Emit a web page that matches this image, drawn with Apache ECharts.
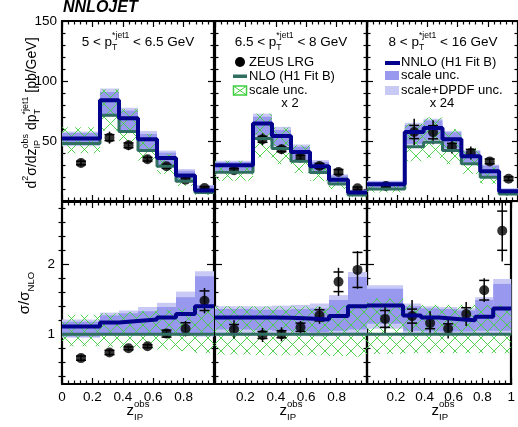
<!DOCTYPE html>
<html>
<head>
<meta charset="utf-8">
<script src="https://cdn.jsdelivr.net/npm/echarts@6/dist/echarts.min.js"></script>
<style>
  html, body { margin: 0; padding: 0; background: #fff; }
  #chart { width: 518px; height: 427px; }
</style>
</head>
<body>
<div id="chart"></div>
<script>
// ---------------- data ----------------
const binEdges   = [0, 0.25, 0.375, 0.5, 0.625, 0.75, 0.875, 1.0];
const binCentres = [0.125, 0.3125, 0.4375, 0.5625, 0.6875, 0.8125, 0.9375];
const ptLow  = ['5', '6.5', '8'];
const ptHigh = ['6.5', '8', '16'];
const scaleTags = ['', 'x 2', 'x 24'];

const xLabels1 = [0, 0.2, 0.4, 0.6, 0.8];
const xLabels2 = [0.2, 0.4, 0.6, 0.8];
const xLabels3 = [0.2, 0.4, 0.6, 0.8, 1];
const xsecLabels = [50, 100, 150];
const ratioLabels = [1, 2];
const ratioMinorTicks = [0.4, 0.6, 0.8, 1.2, 1.4, 1.6, 1.8, 2.2, 2.4, 2.6, 2.8];

// 5 < pT < 6.5 GeV : cross sections [pb/GeV]
const zeus1        = [31.7, 52.8, 46.4, 34.8, 28.9, 17.8, 10.8];
const zeusTot1     = [3, 5, 4, 3, 2.5, 2, 1.5];
const zeusStat1    = [1.5, 2.5, 2, 1.5, 1.5, 1.5, 1];
const nlo1         = [48, 71.5, 58, 42, 29, 16.5, 7];
const nloLo1       = [39.8, 58.6, 47, 33.6, 22.6, 12.5, 5.1];
const nloHi1       = [61.4, 93, 76.6, 55.9, 39.2, 22.6, 9.8];
const nnlo1        = [52, 84, 69, 51.5, 35.8, 21.3, 8.8];
const nnloScLo1    = [46.6, 71.5, 58, 42, 29, 16.5, 7];
const nnloScHi1    = [56.6, 90.8, 75.4, 55.9, 40.3, 25.2, 12.8];
const nnloTotLo1   = [45.6, 70, 56.8, 41.2, 28.4, 16.2, 6.9];
const nnloTotHi1   = [58, 93.7, 77.7, 58.4, 42, 26.6, 13.3];
// ratios to NLO
const zeusR1       = [0.66, 0.74, 0.80, 0.83, 1.01, 1.08, 1.48];
const zeusRTot1    = [0.05, 0.05, 0.04, 0.04, 0.06, 0.11, 0.18];
const zeusRStat1   = [0.03, 0.03, 0.02, 0.02, 0.05, 0.085, 0.14];
const nloRLo1      = [0.83, 0.82, 0.81, 0.80, 0.78, 0.76, 0.73];
const nloRHi1      = [1.28, 1.30, 1.32, 1.33, 1.35, 1.37, 1.40];
const nnloR1       = [1.11, 1.17, 1.19, 1.21, 1.24, 1.29, 1.40];
const nnloRScLo1   = [0.97, 1.0, 1.0, 1.0, 1.0, 1.0, 1.0];
const nnloRScHi1   = [1.18, 1.27, 1.30, 1.33, 1.39, 1.53, 1.83];
const nnloRTotLo1  = [0.95, 0.98, 0.98, 0.98, 0.98, 0.98, 0.97];
const nnloRTotHi1  = [1.21, 1.31, 1.34, 1.39, 1.45, 1.61, 1.90];

// 6.5 < pT < 8 GeV (x 2)
const zeus2        = [25.6, 51.4, 43.1, 36.1, 29.2, 24.2, 10.6];
const zeusTot2     = [3, 5, 4, 3, 3, 3, 1.5];
const zeusStat2    = [1.5, 2.5, 2, 2, 2, 2, 1];
const nlo2         = [24, 52, 43.8, 33.2, 23.7, 14.2, 5.0];
const nloLo2       = [16.8, 36.4, 30.7, 23.2, 16.6, 9.9, 3.4];
const nloHi2       = [33.6, 72.8, 61.3, 46.5, 33.2, 19.9, 7.1];
const nnlo2        = [29.75, 64.5, 54.2, 40.8, 28.9, 17.8, 7.0];
const nnloScLo2    = [25.7, 55.1, 46, 34.5, 24.4, 14.9, 5.35];
const nnloScHi2    = [32.6, 70.2, 59.1, 45.2, 32.5, 21.2, 9.1];
const nnloTotLo2   = [23.5, 51, 42.9, 32.5, 23, 13.9, 4.9];
const nnloTotHi2   = [33.6, 72.8, 61.8, 47.1, 34.1, 22.2, 9.45];
const zeusR2       = [1.07, 0.99, 1.0, 1.10, 1.27, 1.75, 1.92];
const zeusRTot2    = [0.13, 0.10, 0.10, 0.09, 0.12, 0.20, 0.27];
const zeusRStat2   = [0.07, 0.05, 0.05, 0.06, 0.08, 0.14, 0.25];
const nloRLo2      = [0.71, 0.70, 0.70, 0.70, 0.70, 0.69, 0.68];
const nloRHi2      = [1.40, 1.40, 1.40, 1.40, 1.40, 1.41, 1.42];
const nnloR2       = [1.24, 1.24, 1.235, 1.225, 1.21, 1.26, 1.40];
const nnloRScLo2   = [1.07, 1.06, 1.05, 1.04, 1.03, 1.05, 1.07];
const nnloRScHi2   = [1.36, 1.35, 1.35, 1.36, 1.37, 1.49, 1.82];
const nnloRTotLo2  = [0.98, 0.98, 0.98, 0.98, 0.97, 0.98, 0.98];
const nnloRTotHi2  = [1.40, 1.40, 1.41, 1.42, 1.44, 1.56, 1.89];

// 8 < pT < 16 GeV (x 24)
const zeus3        = [12.5, 57.5, 57.3, 45, 40, 33, 18.6];
const zeusTot3     = [1.5, 11, 10, 5.5, 5.5, 3, 2];
const zeusStat3    = [1, 5.5, 5.5, 3, 3, 2, 1.5];
const nlo3         = [9.9, 45.3, 49, 42.1, 31, 19.8, 5.9];
const nloLo3       = [7.1, 33.1, 35.8, 30.7, 22.6, 14.5, 4.3];
const nloHi3       = [14.9, 64.3, 69.6, 59.8, 44, 28.1, 8.4];
const nnlo3        = [13.9, 57.5, 60.8, 51.4, 37.2, 24.75, 8.1];
const nnloScLo3    = [11.4, 47.6, 51, 43.8, 32.2, 20.8, 6.2];
const nnloScHi3    = [16.3, 63.4, 67.1, 57.3, 41.5, 29.5, 10.1];
const nnloTotLo3   = [10.7, 46.2, 49, 42.1, 31, 19.8, 5.9];
const nnloTotHi3   = [16.8, 65.2, 68.6, 58.5, 42.5, 30.3, 10.6];
const zeusR3       = [1.22, 1.26, 1.16, 1.08, 1.29, 1.63, 2.48];
const zeusRTot3    = [0.21, 0.23, 0.17, 0.14, 0.17, 0.17, 0.44];
const zeusRStat3   = [0.12, 0.10, 0.08, 0.07, 0.09, 0.14, 0.28];
const nloRLo3      = [0.72, 0.73, 0.73, 0.73, 0.73, 0.73, 0.73];
const nloRHi3      = [1.51, 1.42, 1.42, 1.42, 1.42, 1.42, 1.42];
const nnloR3       = [1.41, 1.27, 1.24, 1.22, 1.20, 1.25, 1.37];
const nnloRScLo3   = [1.15, 1.05, 1.04, 1.04, 1.04, 1.05, 1.05];
const nnloRScHi3   = [1.65, 1.40, 1.37, 1.36, 1.34, 1.49, 1.72];
const nnloRTotLo3  = [1.08, 1.02, 1.0, 1.0, 1.0, 1.0, 1.0];
const nnloRTotHi3  = [1.70, 1.44, 1.40, 1.39, 1.37, 1.53, 1.79];

const nloSelf = [1, 1, 1, 1, 1, 1, 1];

// ---------------- style ----------------
const FONT = '"Liberation Sans", Arial, Helvetica, sans-serif';
const C_NNLO = '#02028c';
const C_NLO = '#2f6e60';
const C_SCALE = '#9898ee';
const C_TOTAL = '#c9c9f6';
const C_HATCH = '#3fcf3f';

// per-panel tables assembled from the arrays above
const xsecRows = [
  { data: zeus1, tot: zeusTot1, stat: zeusStat1, nlo: nlo1, nloLo: nloLo1, nloHi: nloHi1, nnlo: nnlo1, scLo: nnloScLo1, scHi: nnloScHi1, totLo: nnloTotLo1, totHi: nnloTotHi1 },
  { data: zeus2, tot: zeusTot2, stat: zeusStat2, nlo: nlo2, nloLo: nloLo2, nloHi: nloHi2, nnlo: nnlo2, scLo: nnloScLo2, scHi: nnloScHi2, totLo: nnloTotLo2, totHi: nnloTotHi2 },
  { data: zeus3, tot: zeusTot3, stat: zeusStat3, nlo: nlo3, nloLo: nloLo3, nloHi: nloHi3, nnlo: nnlo3, scLo: nnloScLo3, scHi: nnloScHi3, totLo: nnloTotLo3, totHi: nnloTotHi3 }
];
const ratioRows = [
  { data: zeusR1, tot: zeusRTot1, stat: zeusRStat1, nlo: nloSelf, nloLo: nloRLo1, nloHi: nloRHi1, nnlo: nnloR1, scLo: nnloRScLo1, scHi: nnloRScHi1, totLo: nnloRTotLo1, totHi: nnloRTotHi1 },
  { data: zeusR2, tot: zeusRTot2, stat: zeusRStat2, nlo: nloSelf, nloLo: nloRLo2, nloHi: nloRHi2, nnlo: nnloR2, scLo: nnloRScLo2, scHi: nnloRScHi2, totLo: nnloRTotLo2, totHi: nnloRTotHi2 },
  { data: zeusR3, tot: zeusRTot3, stat: zeusRStat3, nlo: nloSelf, nloLo: nloRLo3, nloHi: nloRHi3, nnlo: nnloR3, scLo: nnloRScLo3, scHi: nnloRScHi3, totLo: nnloRTotLo3, totHi: nnloRTotHi3 }
];
const xLabelSets = [xLabels1, xLabels2, xLabels3];

// cross-hatch fill for the NLO scale band
const hatchCanvas = document.createElement('canvas');
hatchCanvas.width = 13; hatchCanvas.height = 13;
(function () {
  const g = hatchCanvas.getContext('2d');
  g.strokeStyle = C_HATCH; g.lineWidth = 0.9;
  g.beginPath();
  g.moveTo(0, 0); g.lineTo(13, 13);
  g.moveTo(13, 0); g.lineTo(0, 13);
  g.stroke();
})();
const hatchFill = { image: hatchCanvas, repeat: 'repeat' };

// ---------------- layout ----------------
const colLeft = [62, 215, 367];
const colWidth = 152;
const rowBox = [{ top: 21, height: 180 }, { top: 202, height: 182 }];

const grids = [], xAxes = [], yAxes = [], series = [];

const tickLine = { color: '#000', width: 1.2 };
const frameLine = { show: true, onZero: false, lineStyle: { color: '#000', width: 2.2 } };
const labelFont = { color: '#000', fontFamily: FONT, fontSize: 13.5 };

function stepData(values) {
  const pts = values.map((v, i) => [binEdges[i], v]);
  pts.push([binEdges[binEdges.length - 1], values[values.length - 1]]);
  return pts;
}
function bandData(lo, hi) {
  return lo.map((l, i) => [binEdges[i], binEdges[i + 1], l, hi[i]]);
}
function renderBand(fill) {
  return function (params, api) {
    const a = api.coord([api.value(0), api.value(3)]);
    const b = api.coord([api.value(1), api.value(2)]);
    return { type: 'rect', shape: { x: a[0], y: a[1], width: b[0] - a[0], height: b[1] - a[1] }, style: { fill: fill } };
  };
}
function renderErrorBar(params, api) {
  const x = api.value(0), y = api.value(1), tot = api.value(2), stat = api.value(3);
  const lo = api.coord([x, y - tot]), hi = api.coord([x, y + tot]);
  const sLo = api.coord([x, y - stat]), sHi = api.coord([x, y + stat]);
  const hw = 5, st = { stroke: '#000', lineWidth: 1.5 };
  return { type: 'group', children: [
    { type: 'line', shape: { x1: lo[0], y1: lo[1], x2: hi[0], y2: hi[1] }, style: st },
    { type: 'line', shape: { x1: sLo[0] - hw, y1: sLo[1], x2: sLo[0] + hw, y2: sLo[1] }, style: st },
    { type: 'line', shape: { x1: sHi[0] - hw, y1: sHi[1], x2: sHi[0] + hw, y2: sHi[1] }, style: st }
  ] };
}

for (let r = 0; r < 2; r++) {
  for (let c = 0; c < 3; c++) {
    const g = grids.length;
    grids.push({ left: colLeft[c], top: rowBox[r].top, width: colWidth, height: rowBox[r].height });

    // x axes: bottom (with labels on the ratio row) and top
    const xBottom = xAxes.length;
    ['bottom', 'top'].forEach(pos => {
      const showLab = (r === 1 && pos === 'bottom');
      xAxes.push({
        type: 'value', gridIndex: g, position: pos, min: 0, max: 1, interval: 0.2,
        axisLine: frameLine,
        axisTick: { show: true, inside: true, length: 6, lineStyle: tickLine },
        minorTick: { show: true, splitNumber: 5, length: 3.5, lineStyle: tickLine },
        splitLine: { show: false }, minorSplitLine: { show: false },
        axisLabel: showLab
          ? Object.assign({ show: true, margin: 6, customValues: xLabelSets[c] }, labelFont)
          : { show: false }
      });
    });

    // y axes: left and right frame sides
    const yLeft = yAxes.length;
    ['left', 'right'].forEach(pos => {
      const showLab = (c === 0 && pos === 'left');
      if (r === 0) {
        yAxes.push({
          type: 'value', gridIndex: g, position: pos, min: 0, max: 150, interval: 50,
          axisLine: frameLine,
          axisTick: { show: true, inside: true, length: 6, lineStyle: tickLine },
          minorTick: { show: true, splitNumber: 5, length: 3.5, lineStyle: tickLine },
          splitLine: { show: false },
          axisLabel: showLab ? Object.assign({ show: true, margin: 5, customValues: xsecLabels }, labelFont) : { show: false }
        });
      } else {
        yAxes.push({
          type: 'value', gridIndex: g, position: pos, min: 0.29, max: 2.89,
          axisLine: frameLine,
          axisTick: { show: true, inside: true, length: 7, lineStyle: tickLine, customValues: ratioLabels },
          splitLine: { show: false },
          axisLabel: showLab ? Object.assign({ show: true, margin: 7, customValues: ratioLabels }, labelFont) : { show: false }
        });
        // finer ticks of the ratio scale
        yAxes.push({
          type: 'value', gridIndex: g, position: pos, min: 0.29, max: 2.89,
          axisLine: { show: false },
          axisTick: { show: true, inside: true, length: 3.5, lineStyle: tickLine, customValues: ratioMinorTicks },
          splitLine: { show: false },
          axisLabel: { show: false }
        });
      }
    });

    const row = r === 0 ? xsecRows[c] : ratioRows[c];
    const ax = { xAxisIndex: xBottom, yAxisIndex: yLeft };
    series.push(Object.assign({ type: 'custom', clip: true, renderItem: renderBand(C_TOTAL), encode: { x: [0, 1], y: [2, 3] }, data: bandData(row.totLo, row.totHi), silent: true }, ax));
    series.push(Object.assign({ type: 'custom', clip: true, renderItem: renderBand(C_SCALE), encode: { x: [0, 1], y: [2, 3] }, data: bandData(row.scLo, row.scHi), silent: true }, ax));
    series.push(Object.assign({ type: 'custom', clip: true, renderItem: renderBand(hatchFill), encode: { x: [0, 1], y: [2, 3] }, data: bandData(row.nloLo, row.nloHi), silent: true }, ax));
    series.push(Object.assign({ type: 'line', step: 'end', showSymbol: false, clip: true, lineStyle: { color: C_NLO, width: 3 }, data: stepData(row.nlo), silent: true }, ax));
    series.push(Object.assign({ type: 'line', step: 'end', showSymbol: false, clip: true, lineStyle: { color: C_NNLO, width: 4 }, data: stepData(row.nnlo), silent: true }, ax));
    series.push(Object.assign({ type: 'custom', clip: true, renderItem: renderErrorBar, encode: { x: 0, y: 1 }, data: row.data.map((v, i) => [binCentres[i], v, row.tot[i], row.stat[i]]), silent: true }, ax));
    series.push(Object.assign({ type: 'scatter', symbol: 'circle', symbolSize: 10, clip: true, itemStyle: { color: '#000' }, data: row.data.map((v, i) => [binCentres[i], v]), silent: true }, ax));
  }
}

// ---------------- text with sub/superscripts ----------------
const measure = document.createElement('canvas').getContext('2d');
function textWidth(str, size, weight) {
  measure.font = (weight || 'normal') + ' ' + size + 'px ' + FONT;
  return measure.measureText(str).width;
}
function textEl(str, x, y, size, extra) {
  return Object.assign({
    type: 'text', x: x, y: y,
    style: { text: str, font: size + 'px ' + FONT, fill: '#000', align: 'left', verticalAlign: 'middle', textAlign: 'left', textVerticalAlign: 'middle' }
  }, extra || {});
}
// parts: plain strings, or {sup, sub} stacked scripts
function formula(parts, size) {
  const small = size * 0.64;
  let x = 0;
  const children = [];
  parts.forEach(p => {
    if (typeof p === 'string') {
      children.push(textEl(p, x, 0, size));
      x += textWidth(p, size);
    } else {
      let w = 0;
      if (p.sup) { children.push(textEl(p.sup, x, -size * 0.45, small)); w = Math.max(w, textWidth(p.sup, small)); }
      if (p.sub) { children.push(textEl(p.sub, x, size * 0.40, small)); w = Math.max(w, textWidth(p.sub, small)); }
      x += w;
    }
  });
  return { width: x, children: children };
}
function centred(parts, size, cx, cy) {
  const f = formula(parts, size);
  return { type: 'group', x: cx - f.width / 2, y: cy, children: f.children };
}
function vertical(parts, size, cx, cy) {
  const f = formula(parts, size);
  return { type: 'group', x: cx, y: cy + f.width / 2, rotation: Math.PI / 2, children: f.children };
}

const graphics = [];
// program tag
graphics.push({ type: 'text', x: 63, y: 8, style: { text: 'NNLOJET', font: 'italic bold 16px ' + FONT, fill: '#000', align: 'left', verticalAlign: 'middle', textAlign: 'left', textVerticalAlign: 'middle' } });

// transverse-momentum range of each column
for (let c = 0; c < 3; c++) {
  const cx = colLeft[c] + colWidth / 2;
  graphics.push(centred([ptLow[c] + ' < p', { sup: '*jet1', sub: 'T' }, ' < ' + ptHigh[c] + ' GeV'], 13.5, cx, 42));
  graphics.push(centred(['z', { sup: 'obs', sub: 'IP' }], 15, cx, 411));
  if (scaleTags[c]) graphics.push(centred([scaleTags[c]], 13, cx - 1, 103));
}

// axis titles
graphics.push(vertical(['d', { sup: '2' }, 'σ/dz', { sup: 'obs', sub: 'IP' }, ' dp', { sup: '*jet1', sub: 'T' }, ' [pb/GeV]'], 14, 32, 113));
graphics.push(vertical(['σ/σ', { sub: 'NLO' }], 15, 25, 293));

// legend entries
graphics.push({ type: 'circle', shape: { cx: 240, cy: 62, r: 5 }, style: { fill: '#000' } });
graphics.push(textEl('ZEUS LRG', 249, 62, 13));
graphics.push({ type: 'rect', shape: { x: 233, y: 74.5, width: 14, height: 3.5 }, style: { fill: C_NLO } });
graphics.push(textEl('NLO (H1 Fit B)', 249, 76, 13));
graphics.push({ type: 'rect', shape: { x: 233.5, y: 86, width: 13, height: 9 }, style: { fill: '#fff', stroke: C_HATCH, lineWidth: 1.5 } });
graphics.push({ type: 'line', shape: { x1: 233.5, y1: 86, x2: 246.5, y2: 95 }, style: { stroke: C_HATCH, lineWidth: 1 } });
graphics.push({ type: 'line', shape: { x1: 246.5, y1: 86, x2: 233.5, y2: 95 }, style: { stroke: C_HATCH, lineWidth: 1 } });
graphics.push(textEl('scale unc.', 249, 90, 13));

graphics.push({ type: 'rect', shape: { x: 385, y: 61, width: 15, height: 4 }, style: { fill: C_NNLO } });
graphics.push(textEl('NNLO (H1 Fit B)', 401, 62, 13));
graphics.push({ type: 'rect', shape: { x: 385, y: 71, width: 14, height: 9 }, style: { fill: C_SCALE } });
graphics.push(textEl('scale unc.', 401, 75.5, 13));
graphics.push({ type: 'rect', shape: { x: 385, y: 86, width: 14, height: 9 }, style: { fill: C_TOTAL } });
graphics.push(textEl('scale+DPDF unc.', 401, 90, 13));

const chart = echarts.init(document.getElementById('chart'), null, { renderer: 'canvas' });
chart.setOption({
  animation: false,
  backgroundColor: '#fff',
  grid: grids,
  xAxis: xAxes,
  yAxis: yAxes,
  series: series,
  graphic: { elements: graphics }
});
</script>
</body>
</html>
